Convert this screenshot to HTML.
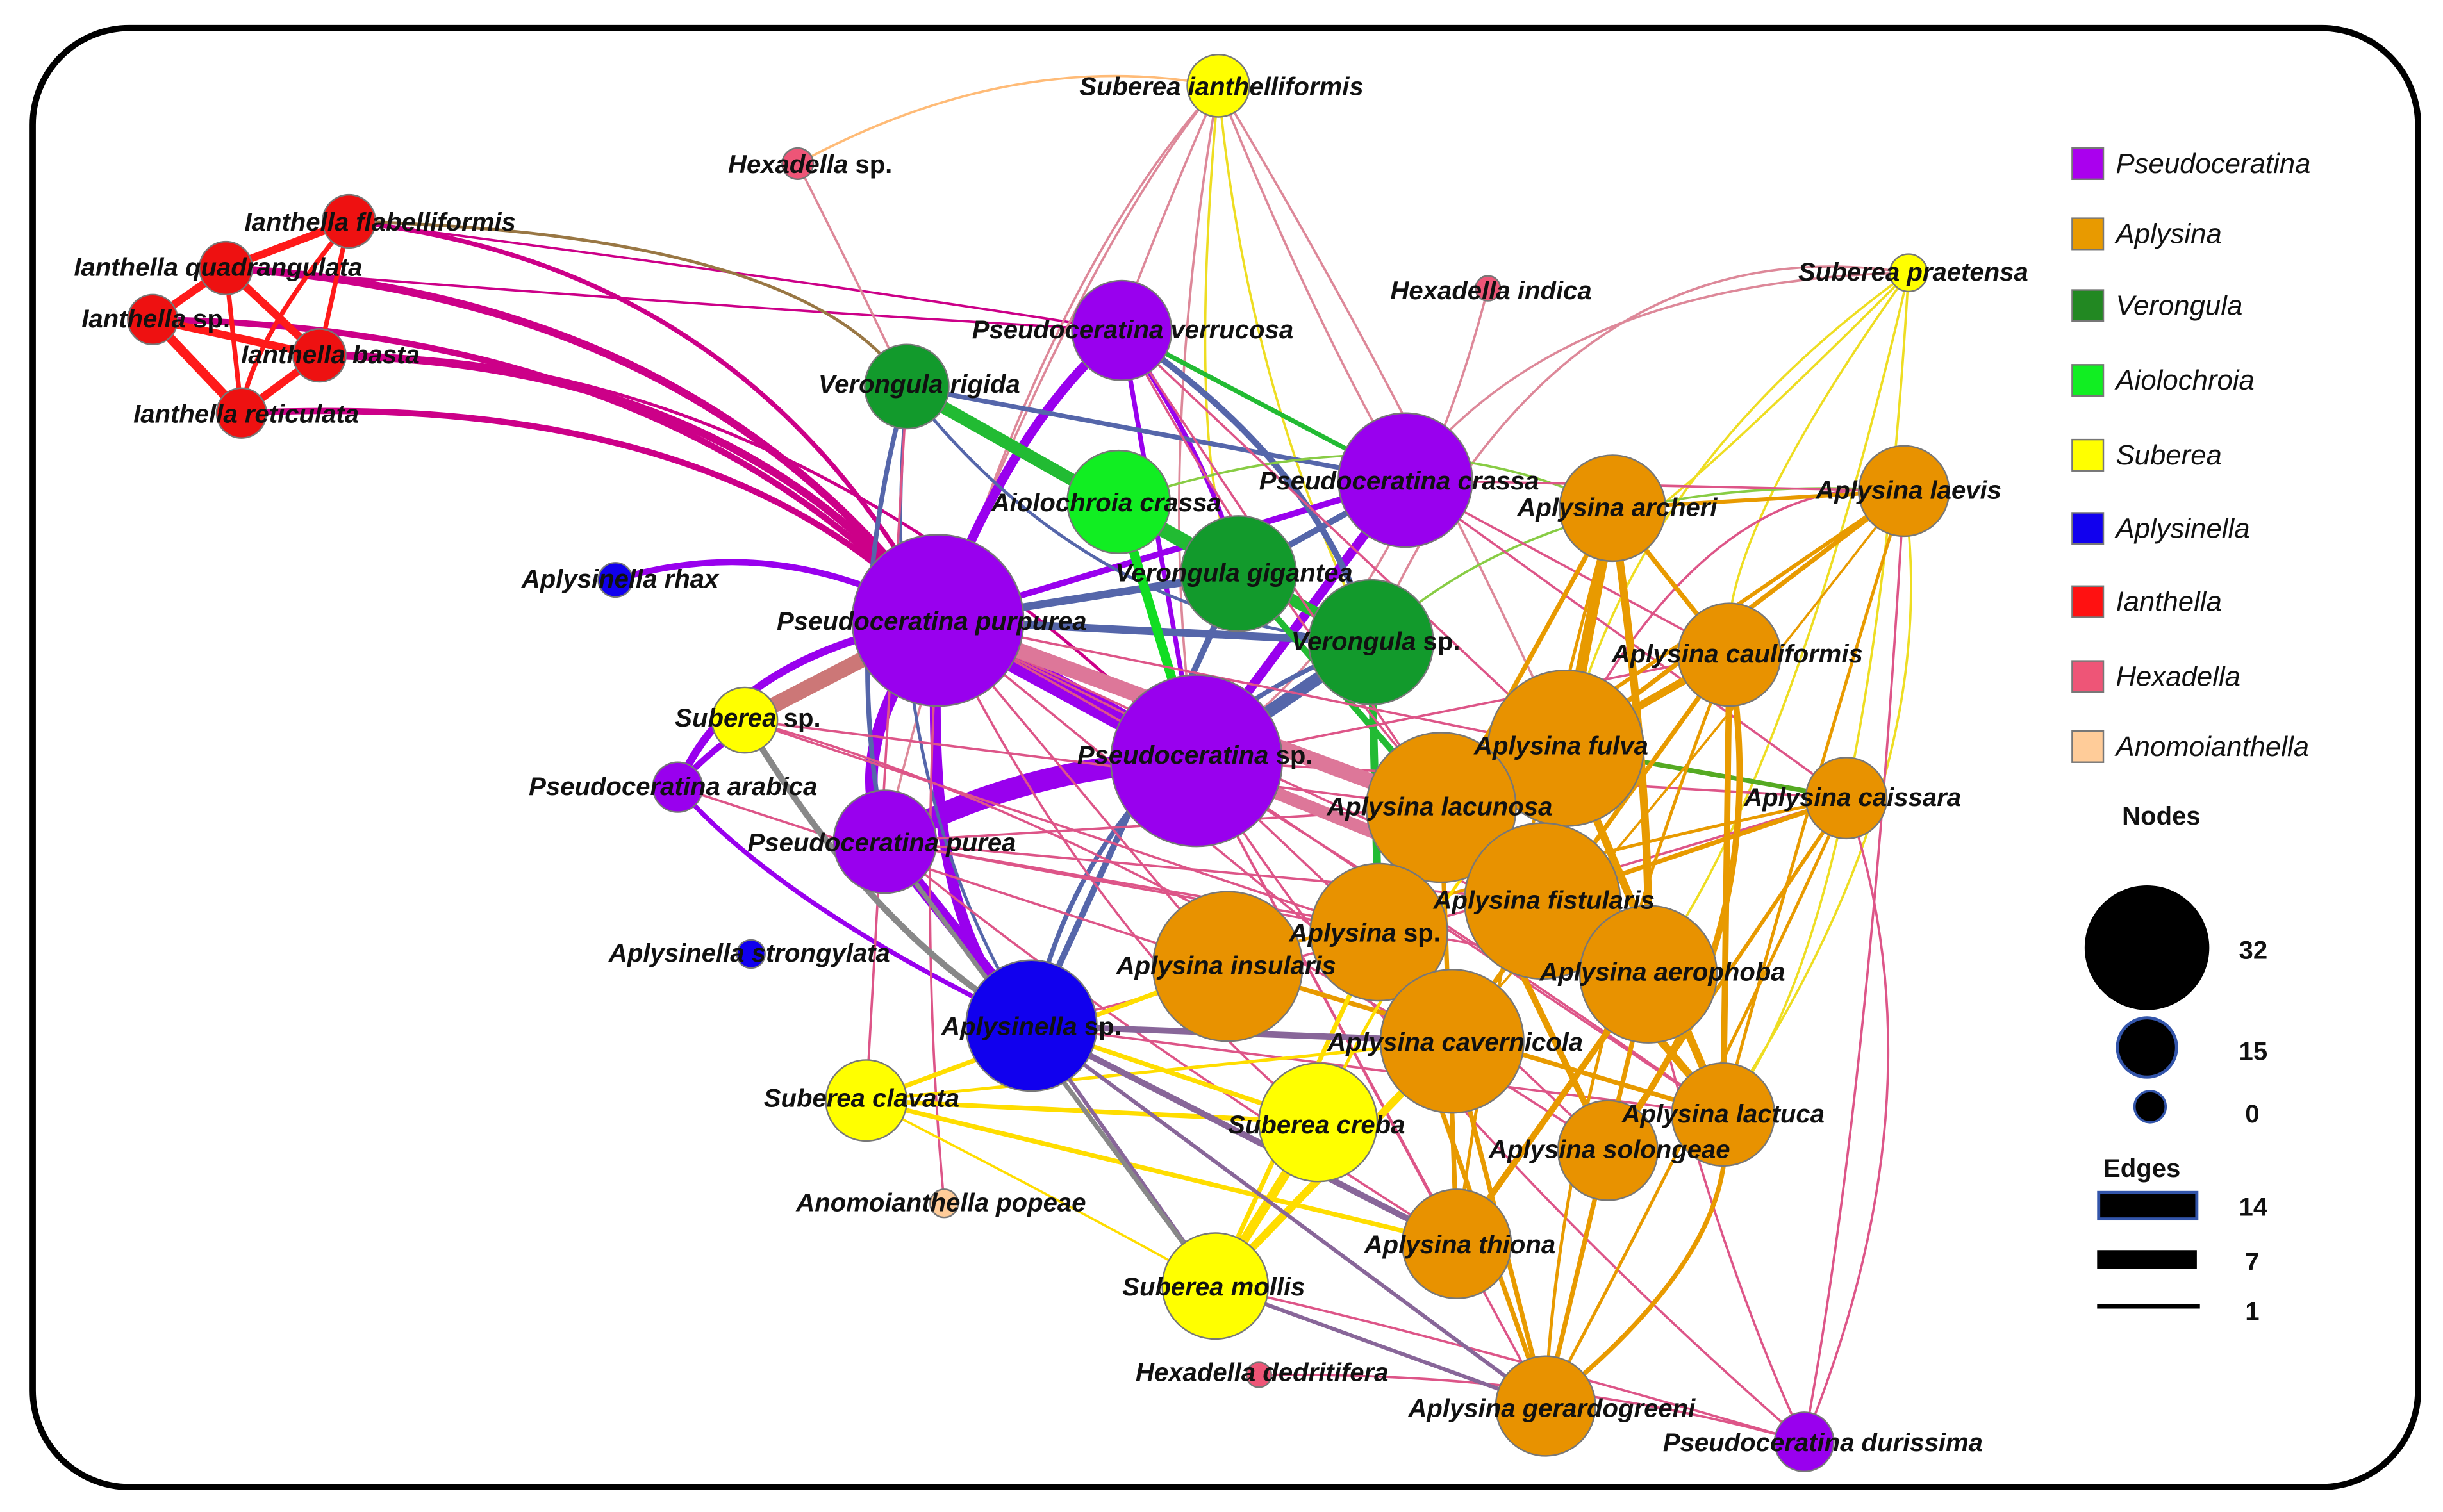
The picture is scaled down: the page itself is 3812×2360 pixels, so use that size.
<!DOCTYPE html>
<html><head><meta charset="utf-8"><style>
html,body{margin:0;padding:0;background:#fff}
svg{display:block}
text{font-family:"Liberation Sans",sans-serif;font-style:italic;font-weight:bold;font-size:16.5px;fill:#111}
.lg{font-weight:normal;font-size:18px}
.nb{font-style:normal}
</style></head><body>
<svg width="3812" height="2360" viewBox="0 0 1568 970" preserveAspectRatio="none" xmlns="http://www.w3.org/2000/svg">
<rect x="0" y="0" width="1568" height="970" fill="#fff"/>
<rect x="21" y="18" width="1531" height="936" rx="62" fill="none" stroke="#000" stroke-width="4"/>
<g fill="none" stroke-linecap="round">
<g stroke="#cc0088" stroke-width="3">
<path d="M224,142 Q480,170 602,398"/><path d="M145,172 Q450,190 602,398" stroke-width="5"/>
<path d="M98,205 Q430,210 602,398" stroke-width="4"/><path d="M205,228 Q470,230 602,398" stroke-width="5"/>
<path d="M155,265 Q460,250 602,398" stroke-width="4"/><path d="M224,142 Q520,180 720,212" stroke-width="1.5"/>
<path d="M145,172 Q500,200 720,212" stroke-width="1.5"/><path d="M205,228 Q500,220 768,488" stroke-width="2"/>
</g>
<path d="M224,142 Q520,150 582,248" stroke="#997744" stroke-width="2"/>
<g stroke="#ff1a1a" stroke-width="5">
<path d="M224,142 L145,172"/><path d="M145,172 L98,205"/><path d="M98,205 L205,228"/><path d="M205,228 L155,265"/>
<path d="M98,205 L155,265" stroke-width="6"/><path d="M145,172 L205,228"/><path d="M224,142 L205,228" stroke-width="3"/>
<path d="M145,172 L155,265" stroke-width="3"/><path d="M224,142 Q160,220 155,265" stroke-width="3"/>
</g>
<g stroke="#dd8899" stroke-width="1.5">
<path d="M782,55 Q700,150 602,398"/><path d="M782,55 Q740,300 768,488"/><path d="M782,55 Q840,200 902,308"/>
<path d="M782,55 Q720,200 720,212"/><path d="M512,105 Q560,200 582,248"/><path d="M955,185 Q900,400 768,488"/>
<path d="M1225,175 Q1000,140 880,412"/><path d="M1225,175 Q1000,180 902,308"/>
<path d="M782,55 Q650,200 568,540"/><path d="M782,55 Q900,250 1005,480"/>
</g>
<path d="M512,105 Q650,30 782,55" stroke="#ffbb77" stroke-width="1.5"/>
<g stroke="#eedd22" stroke-width="1.5">
<path d="M782,55 Q760,300 795,368"/><path d="M782,55 Q800,250 880,412"/><path d="M1225,175 Q1050,300 1005,480"/>
<path d="M1225,175 Q1100,350 1110,420"/><path d="M1225,175 Q1000,400 1035,326"/><path d="M1225,175 Q1150,500 1058,625"/>
<path d="M1222,315 Q1250,500 1106,715"/><path d="M1225,175 Q1200,600 1106,715"/>
</g>
<g stroke="#9900ee">
<path d="M602,398 L768,488" stroke-width="14"/><path d="M602,398 Q650,270 720,212" stroke-width="6"/>
<path d="M602,398 L902,308" stroke-width="4"/><path d="M602,398 Q540,480 568,540" stroke-width="8"/>
<path d="M602,398 Q470,420 435,505" stroke-width="5"/><path d="M768,488 Q660,490 568,540" stroke-width="14"/>
<path d="M768,488 L902,308" stroke-width="6"/><path d="M768,488 L720,212" stroke-width="3"/>
<path d="M568,540 L662,658" stroke-width="8"/><path d="M602,398 Q590,600 662,658" stroke-width="7"/>
<path d="M435,505 Q500,580 662,658" stroke-width="3"/><path d="M395,372 Q500,340 602,398" stroke-width="4"/>
<path d="M435,505 Q470,460 602,398" stroke-width="4"/><path d="M720,212 Q780,300 795,368" stroke-width="3"/>
</g>
<path d="M478,462 L602,398" stroke="#cc7777" stroke-width="10"/>
<g stroke="#5566aa" stroke-width="3">
<path d="M582,248 Q540,400 568,540"/><path d="M582,248 L902,308"/><path d="M720,212 Q850,300 880,412" stroke-width="4"/>
<path d="M902,308 L795,368" stroke-width="4"/><path d="M602,398 L880,412" stroke-width="5"/><path d="M795,368 L602,398" stroke-width="5"/>
<path d="M768,488 L880,412" stroke-width="8"/><path d="M662,658 L795,368" stroke-width="4"/><path d="M662,658 Q700,480 880,412" stroke-width="3"/>
<path d="M582,248 Q560,500 662,658" stroke-width="2"/><path d="M582,248 Q700,400 880,412" stroke-width="2"/>
</g>
<g stroke="#22bb33" stroke-width="8">
<path d="M582,248 L795,368"/><path d="M718,322 L880,412" stroke-width="6"/><path d="M720,212 L902,308" stroke-width="3"/>
<path d="M795,368 L880,412" stroke-width="6"/><path d="M880,412 L885,598" stroke-width="5"/><path d="M795,368 L925,518" stroke-width="4"/>
<path d="M1185,512 L1005,480" stroke-width="3" stroke="#55aa22"/>
<path d="M718,322 Q900,260 1035,326" stroke-width="1.5" stroke="#88cc44"/><path d="M1222,315 Q1000,300 880,412" stroke-width="1.5" stroke="#88cc44"/>
</g>
<path d="M718,322 L768,488" stroke="#11dd22" stroke-width="6"/>
<g stroke="#dd5588" stroke-width="1.5">
<path d="M602,398 L925,518"/><path d="M602,398 L990,578"/><path d="M602,398 L1005,480"/><path d="M602,398 L788,620"/>
<path d="M602,398 L932,668"/><path d="M602,398 L1058,625"/><path d="M768,488 L1106,715"/><path d="M768,488 L1032,738"/>
<path d="M768,488 L935,798"/><path d="M768,488 L1110,420"/><path d="M768,488 L1185,512"/><path d="M768,488 L992,902"/>
<path d="M568,540 L925,518"/><path d="M568,540 L990,578"/><path d="M568,540 L885,598"/><path d="M568,540 L1058,625"/>
<path d="M720,212 L1005,480"/><path d="M720,212 L925,518"/><path d="M902,308 L1222,315"/><path d="M902,308 L1110,420"/>
<path d="M902,308 L1185,512"/><path d="M435,505 L788,620"/><path d="M478,462 L925,518"/><path d="M478,462 L885,598"/>
<path d="M1158,925 Q1200,700 1222,315"/><path d="M1158,925 Q1250,700 1185,512"/><path d="M1158,925 Q1100,800 1058,625"/>
<path d="M1158,925 Q900,850 780,825"/><path d="M808,882 Q1000,880 1158,925"/><path d="M662,658 L1106,715"/>
<path d="M556,706 L582,248"/><path d="M606,772 Q590,600 602,398"/>
<path d="M602,398 Q700,600 846,720"/><path d="M568,540 Q700,650 935,798"/><path d="M720,212 Q850,450 990,578"/>
<path d="M602,398 Q800,500 1106,715"/><path d="M662,658 Q900,600 1185,512"/><path d="M478,462 Q700,520 1032,738"/>
<path d="M768,488 Q900,700 1158,925"/><path d="M1222,315 Q1100,300 1005,480"/>
</g>
<path d="M602,398 L925,518" stroke="#dd7799" stroke-width="10"/>
<path d="M768,488 L990,578" stroke="#dd7799" stroke-width="8"/>
<g stroke="#e89a00" stroke-width="2.5">
<path d="M1035,326 L1005,480" stroke-width="7"/><path d="M1035,326 Q1060,500 1058,625" stroke-width="5"/><path d="M1035,326 L990,578" stroke-width="4"/>
<path d="M1035,326 L1110,420" stroke-width="3"/><path d="M1222,315 L1035,326"/><path d="M1222,315 L1005,480" stroke-width="3"/>
<path d="M1222,315 L925,518"/><path d="M1110,420 L1005,480" stroke-width="5"/><path d="M1110,420 L1106,715" stroke-width="4"/>
<path d="M1110,420 L932,668" stroke-width="3"/><path d="M1185,512 L990,578" stroke-width="3"/><path d="M1185,512 L1032,738"/>
<path d="M1005,480 L1106,715" stroke-width="5"/><path d="M925,518 L1032,738" stroke-width="4"/><path d="M990,578 L1106,715" stroke-width="5"/>
<path d="M935,798 L1058,625" stroke-width="4"/><path d="M935,798 L925,518" stroke-width="3"/><path d="M992,902 L932,668" stroke-width="3"/>
<path d="M992,902 L1058,625" stroke-width="3"/><path d="M992,902 L885,598" stroke-width="3"/><path d="M992,902 Q1120,800 1106,715" stroke-width="3"/>
<path d="M788,620 L1106,715" stroke-width="3"/><path d="M1035,326 L885,598" stroke-width="3"/><path d="M1110,420 Q1140,600 1032,738" stroke-width="4"/>
<path d="M1222,315 Q1150,550 1106,715" stroke-width="2"/><path d="M1185,512 Q1100,700 992,902" stroke-width="2"/>
<path d="M1035,326 Q960,600 935,798" stroke-width="2"/><path d="M1110,420 Q1000,700 992,902" stroke-width="2"/>
<path d="M1185,512 Q950,560 788,620" stroke-width="2"/><path d="M1222,315 Q1080,500 932,668" stroke-width="1.5"/>
</g>
<g stroke="#ffdd00" stroke-width="3">
<path d="M846,720 L556,706"/><path d="M846,720 L780,825" stroke-width="6"/><path d="M846,720 L662,658"/>
<path d="M556,706 L788,620"/><path d="M556,706 L935,798"/><path d="M780,825 L932,668" stroke-width="5"/>
<path d="M780,825 L885,598" stroke-width="3"/><path d="M556,706 L932,668" stroke-width="2"/>
<path d="M556,706 Q700,780 780,825" stroke-width="1.5"/><path d="M846,720 Q900,600 1005,480" stroke-width="2"/>
</g>
<g stroke="#886699" stroke-width="2.5">
<path d="M662,658 L780,825"/><path d="M662,658 L992,902"/><path d="M662,658 L935,798" stroke-width="4"/>
<path d="M662,658 L932,668" stroke-width="4"/><path d="M568,540 L780,825" stroke="#888" stroke-width="3"/>
<path d="M478,462 Q560,600 662,658" stroke="#888" stroke-width="4"/><path d="M780,825 L992,902"/>
</g>
</g>
<g stroke="#777" stroke-width="1">
<circle cx="782" cy="55" r="20" fill="#ffff00"/><circle cx="512" cy="105" r="10" fill="#ee5577"/>
<circle cx="224" cy="142" r="17" fill="#ee1111"/><circle cx="145" cy="172" r="17" fill="#ee1111"/>
<circle cx="98" cy="205" r="16" fill="#ee1111"/><circle cx="205" cy="228" r="17" fill="#ee1111"/>
<circle cx="155" cy="265" r="16" fill="#ee1111"/>
<circle cx="582" cy="248" r="27" fill="#129a2c"/><circle cx="720" cy="212" r="32" fill="#9900ee"/>
<circle cx="955" cy="185" r="8" fill="#ee5577"/><circle cx="1225" cy="175" r="12" fill="#ffff00"/>
<circle cx="718" cy="322" r="33" fill="#11ee22"/><circle cx="902" cy="308" r="43" fill="#9900ee"/>
<circle cx="1035" cy="326" r="34" fill="#e89200"/><circle cx="1222" cy="315" r="29" fill="#e89200"/>
<circle cx="395" cy="372" r="11" fill="#1100ee"/><circle cx="795" cy="368" r="37" fill="#129a2c"/>
<circle cx="602" cy="398" r="55" fill="#9900ee"/><circle cx="880" cy="412" r="40" fill="#129a2c"/>
<circle cx="1110" cy="420" r="33" fill="#e89200"/><circle cx="478" cy="462" r="21" fill="#ffff00"/>
<circle cx="1005" cy="480" r="50" fill="#e89200"/><circle cx="768" cy="488" r="55" fill="#9900ee"/>
<circle cx="435" cy="505" r="16" fill="#9900ee"/><circle cx="925" cy="518" r="48" fill="#e89200"/>
<circle cx="1185" cy="512" r="26" fill="#e89200"/><circle cx="568" cy="540" r="33" fill="#9900ee"/>
<circle cx="990" cy="578" r="50" fill="#e89200"/><circle cx="885" cy="598" r="44" fill="#e89200"/>
<circle cx="482" cy="612" r="9" fill="#1100ee"/><circle cx="788" cy="620" r="48" fill="#e89200"/>
<circle cx="1058" cy="625" r="44" fill="#e89200"/><circle cx="662" cy="658" r="42" fill="#1100ee"/>
<circle cx="932" cy="668" r="46" fill="#e89200"/><circle cx="556" cy="706" r="26" fill="#ffff00"/>
<circle cx="846" cy="720" r="38" fill="#ffff00"/><circle cx="1106" cy="715" r="33" fill="#e89200"/>
<circle cx="1032" cy="738" r="32" fill="#e89200"/><circle cx="606" cy="772" r="9" fill="#ffcc99"/>
<circle cx="935" cy="798" r="35" fill="#e89200"/><circle cx="780" cy="825" r="34" fill="#ffff00"/>
<circle cx="808" cy="882" r="8" fill="#ee5577"/><circle cx="992" cy="902" r="32" fill="#e89200"/>
<circle cx="1158" cy="925" r="19" fill="#9900ee"/>
</g>
<g text-anchor="middle">
<text x="784" y="61">Suberea ianthelliformis</text><text x="520" y="111">Hexadella <tspan class="nb">sp.</tspan></text>
<text x="244" y="148">Ianthella flabelliformis</text><text x="140" y="177">Ianthella quadrangulata</text>
<text x="100" y="210">Ianthella <tspan class="nb">sp.</tspan></text><text x="212" y="233">Ianthella basta</text>
<text x="158" y="271">Ianthella reticulata</text><text x="590" y="252">Verongula rigida</text>
<text x="727" y="217">Pseudoceratina verrucosa</text><text x="957" y="192">Hexadella indica</text>
<text x="1228" y="180">Suberea praetensa</text><text x="710" y="328">Aiolochroia crassa</text>
<text x="898" y="314">Pseudoceratina crassa</text><text x="1038" y="331">Aplysina archeri</text>
<text x="1225" y="320">Aplysina laevis</text><text x="398" y="377">Aplysinella rhax</text>
<text x="792" y="373">Verongula gigantea</text><text x="598" y="404">Pseudoceratina purpurea</text>
<text x="883" y="417">Verongula <tspan class="nb">sp.</tspan></text><text x="1115" y="425">Aplysina cauliformis</text>
<text x="480" y="466">Suberea <tspan class="nb">sp.</tspan></text><text x="1002" y="484">Aplysina fulva</text>
<text x="767" y="490">Pseudoceratina <tspan class="nb">sp.</tspan></text><text x="432" y="510">Pseudoceratina arabica</text>
<text x="924" y="523">Aplysina lacunosa</text><text x="1189" y="517">Aplysina caissara</text>
<text x="566" y="546">Pseudoceratina purea</text><text x="991" y="583">Aplysina fistularis</text>
<text x="876" y="604">Aplysina <tspan class="nb">sp.</tspan></text><text x="481" y="617">Aplysinella strongylata</text>
<text x="787" y="625">Aplysina insularis</text><text x="1067" y="629">Aplysina aerophoba</text>
<text x="662" y="664">Aplysinella <tspan class="nb">sp.</tspan></text><text x="934" y="674">Aplysina cavernicola</text>
<text x="553" y="710">Suberea clavata</text><text x="845" y="727">Suberea creba</text>
<text x="1106" y="720">Aplysina lactuca</text><text x="1033" y="743">Aplysina solongeae</text>
<text x="604" y="777">Anomoianthella popeae</text><text x="937" y="804">Aplysina thiona</text>
<text x="779" y="831">Suberea mollis</text><text x="810" y="886">Hexadella dedritifera</text>
<text x="996" y="909">Aplysina gerardogreeni</text><text x="1170" y="931">Pseudoceratina durissima</text>
</g>
<g stroke="#777" stroke-width="1">
<rect x="1330" y="95" width="20" height="20" fill="#aa00ee"/><rect x="1330" y="140" width="20" height="20" fill="#e89a00"/>
<rect x="1330" y="186" width="20" height="20" fill="#228822"/><rect x="1330" y="234" width="20" height="20" fill="#11ee22"/>
<rect x="1330" y="282" width="20" height="20" fill="#ffff00"/><rect x="1330" y="329" width="20" height="20" fill="#1100ee"/>
<rect x="1330" y="376" width="20" height="20" fill="#ff1111"/><rect x="1330" y="424" width="20" height="20" fill="#ee5577"/>
<rect x="1330" y="469" width="20" height="20" fill="#ffcc99"/>
</g>
<text class="lg" x="1358" y="111">Pseudoceratina</text><text class="lg" x="1358" y="156">Aplysina</text>
<text class="lg" x="1358" y="202">Verongula</text><text class="lg" x="1358" y="250">Aiolochroia</text>
<text class="lg" x="1358" y="298">Suberea</text><text class="lg" x="1358" y="345">Aplysinella</text>
<text class="lg" x="1358" y="392">Ianthella</text><text class="lg" x="1358" y="440">Hexadella</text>
<text class="lg" x="1358" y="485">Anomoianthella</text>
<text class="nb" x="1362" y="529">Nodes</text>
<circle cx="1378" cy="608" r="40" fill="#000"/><circle cx="1378" cy="672" r="19" fill="#000" stroke="#3355aa" stroke-width="2"/>
<circle cx="1380" cy="710" r="10" fill="#000" stroke="#3355aa" stroke-width="1.5"/>
<text class="nb" x="1437" y="615">32</text><text class="nb" x="1437" y="680">15</text><text class="nb" x="1441" y="720">0</text>
<text class="nb" x="1350" y="755">Edges</text>
<rect x="1347" y="765" width="63" height="17" fill="#000" stroke="#3355aa" stroke-width="2"/>
<rect x="1346" y="802" width="64" height="12" fill="#000"/>
<line x1="1346" y1="838" x2="1412" y2="838" stroke="#000" stroke-width="3"/>
<text class="nb" x="1437" y="780">14</text><text class="nb" x="1441" y="815">7</text><text class="nb" x="1441" y="847">1</text>
</svg>
</body></html>
